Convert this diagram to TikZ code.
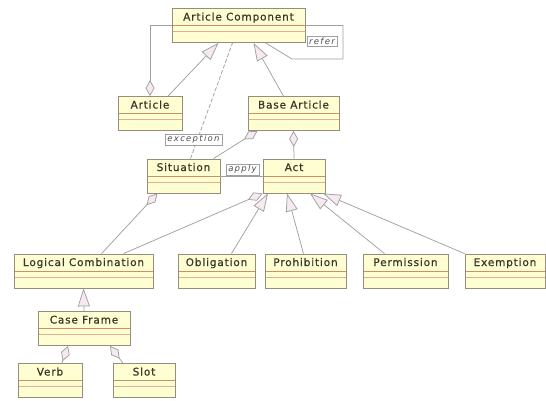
\documentclass[tikz,border=0pt]{standalone}
\usepackage{fontspec}
\usetikzlibrary{arrows.meta}
\newfontfamily\classfont[LetterSpace=8, FakeBold=0.6]{DejaVu Sans}
\newfontfamily\rolefont[LetterSpace=15]{DejaVu Sans Oblique}
\definecolor{classfill}{HTML}{FFFDD2}
\definecolor{classedge}{HTML}{958E7C}
\definecolor{sepline}{HTML}{CC9064}
\definecolor{linkgray}{HTML}{A0A0A0}
\definecolor{tipfill}{HTML}{F6EAF0}
\definecolor{classtext}{HTML}{383828}
\tikzset{
  umlclass/.style = {draw = classedge, fill = classfill, line width = 0.8pt,
    minimum height = 34pt, inner ysep = 0pt, text height = 12pt, text depth = 22pt,
    font = \classfont\fontsize{10.5}{12}\selectfont, text = classtext,
    path picture = {
      \draw[sepline, line width = 0.8pt] ([yshift=-17pt]path picture bounding box.north west) -- ([yshift=-17pt]path picture bounding box.north east);
      \draw[sepline!70, line width = 0.8pt] ([yshift=-23pt]path picture bounding box.north west) -- ([yshift=-23pt]path picture bounding box.north east);
    }},
  link/.style = {draw = linkgray, line width = 0.75pt},
  isa/.style = {link, -{Triangle[length = 18pt, width = 12pt, fill = tipfill]}},
  partof/.style = {link, {Diamond[length = 16pt, width = 9pt, fill = tipfill]}-},
  role/.style = {draw = linkgray, fill = white, text = gray!60!black,
    font = \rolefont\fontsize{8.5}{10}\selectfont, inner xsep = 2.5pt, inner ysep = 1.5pt}
}
\begin{document}
\begin{tikzpicture}[x = 1pt, y = -1pt]
                    \useasboundingbox (0,0) rectangle (546,400);
                    \node[umlclass, minimum width = 133pt] (component) at (238.5,25.5) {Article Component};
                    \node[umlclass, minimum width = 64pt] (article) at (150,113.5) {Article};
                    \node[umlclass, minimum width = 91pt] (base) at (293.5,113.5) {Base Article};
                    \node[umlclass, minimum width = 73pt] (situation) at (183.5,176) {Situation};
                    \node[umlclass, minimum width = 62pt] (act) at (294,176) {Act};
                    \node[umlclass, minimum width = 139pt] (logical) at (83.5,271) {Logical Combination};
                    \node[umlclass, minimum width = 77pt] (obligation) at (216.5,271) {Obligation};
                    \node[umlclass, minimum width = 81pt] (prohibition) at (305.5,271) {Prohibition};
                    \node[umlclass, minimum width = 85pt] (permission) at (405.5,271) {Permission};
                    \node[umlclass, minimum width = 80pt] (exemption) at (505,271) {Exemption};
                    \node[umlclass, minimum width = 92pt] (caseframe) at (84,328.5) {Case Frame};
                    \node[umlclass, minimum width = 64pt] (verb) at (50,380.5) {Verb};
                    \node[umlclass, minimum width = 62pt] (slot) at (144,380.5) {Slot};
                    \coordinate (referturn) at (343,59);
                    \coordinate (referback) at (292,59);
                    \draw[partof] (article.north) |- (component.west);
                    \draw[isa] ([xshift=18pt]article.north) -- ([xshift=-20pt]component.south);
                    \draw[link, dash pattern = on 4pt off 2pt] ([xshift=7pt]situation.north) -- ([xshift=-6pt]component.south);
                    \draw[isa] ([xshift=-10pt]base.north) -- ([xshift=15pt]component.south);
                    \draw[link] (component.east) -| (referturn) -- (referback) -- ([xshift=27pt]component.south);
                    \node[role] (referlabel) at (322,41) {refer};
                    \node[role] (exceptionlabel) at (193.5,139.5) {exception};
                    \draw[partof] ([xshift=-36pt]base.south) -- ([xshift=30pt]situation.north);
                    \draw[partof] (base.south) -- (act.north);
                    \draw[link] (situation.east) -- (act.west);
                    \node[role] (applylabel) at (242.5,169.5) {apply};
                    \draw[partof] ([xshift=-26pt]situation.south) -- ([xshift=18pt]logical.north);
                    \draw[partof] (act.south west) -- ([xshift=40pt]logical.north);
                    \draw[isa] ([xshift=15pt]obligation.north) -- ([xshift=-26pt]act.south);
                    \draw[isa] ([xshift=-2pt]prohibition.north) -- ([xshift=-7pt]act.south);
                    \draw[isa] ([xshift=-21pt]permission.north) -- ([xshift=16pt]act.south);
                    \draw[isa] (exemption.north west) -- ([xshift=29pt]act.south);
                    \draw[isa] (caseframe.north) -- (logical.south);
                    \draw[partof] ([xshift=-16pt]caseframe.south) -- ([xshift=12pt]verb.north);
                    \draw[partof] ([xshift=26pt]caseframe.south) -- ([xshift=-21pt]slot.north);
            \end{tikzpicture}
\end{document}
